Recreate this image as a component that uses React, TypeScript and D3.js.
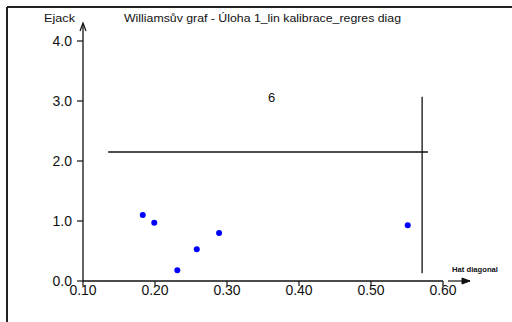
import React from "react";
import * as d3 from "d3";

const hatValues = [0.183, 0.199, 0.231, 0.258, 0.289, 0.551];
const ejackValues = [1.1, 0.97, 0.18, 0.53, 0.8, 0.93];
const xTicks = [0.1, 0.2, 0.3, 0.4, 0.5, 0.6];
const yTicks = [0, 1, 2, 3, 4];
const vLine = { x: 0.571, y0: 0.13, y1: 3.07 };
const hLine = { y: 2.15, x0: 0.135, x1: 0.579 };
const pointLabel = { x: 0.362, y: 2.98, text: "6" };
const title = "Williamsův graf - Úloha 1_lin kalibrace_regres diag";
const yLabel = "Ejack";
const xLabel = "Hat diagonal";

export default function App() {
  const W = 512, H = 322;
  const x = d3.scaleLinear().domain([0.1, 0.6]).range([83, 443]);
  const y = d3.scaleLinear().domain([0, 4]).range([281, 41]);
  const font = "'Liberation Sans', Arial, sans-serif";
  const ink = "#111";
  return (
    <svg width={W} height={H} style={{ position: "absolute", left: 0, top: 0, background: "#fff" }} fontFamily={font}>
      {/* frame */}
      <line x1={7} y1={7} x2={W} y2={7} stroke="#222" strokeWidth={2} />
      <line x1={7} y1={7} x2={7} y2={H} stroke="#222" strokeWidth={2} />
      {/* title */}
      <text x={124} y={22} fontSize={11} textLength={277} lengthAdjust="spacingAndGlyphs" fill={ink}>{title}</text>
      {/* y axis */}
      <line x1={x(0.1)} y1={y(0)} x2={x(0.1)} y2={24} stroke={ink} strokeWidth={1.3} />
      <path d={`M${x(0.1) - 3},${31} L${x(0.1)},${23} L${x(0.1) + 3},${31}`} fill="none" stroke={ink} strokeWidth={1.2} />
      <text x={44} y={22} fontSize={11} textLength={31} lengthAdjust="spacingAndGlyphs" fill={ink}>{yLabel}</text>
      {yTicks.map(t => (
        <g key={"y" + t}>
          <line x1={x(0.1) - 6} x2={x(0.1)} y1={y(t)} y2={y(t)} stroke={ink} strokeWidth={1.2} />
          <text x={x(0.1) - 11} y={y(t) + 5} textAnchor="end" fontSize={14} fill={ink}>{t.toFixed(1)}</text>
        </g>
      ))}
      {/* x axis */}
      <line x1={x(0.1)} y1={y(0)} x2={x(0.6)} y2={y(0)} stroke={ink} strokeWidth={1.3} />
      {xTicks.map(t => (
        <g key={"x" + t}>
          <line x1={x(t)} x2={x(t)} y1={y(0)} y2={y(0) + 5} stroke={ink} strokeWidth={1.2} />
          <text x={x(t)} y={y(0) + 14} textAnchor="middle" fontSize={14} fill={ink}>{t.toFixed(2)}</text>
        </g>
      ))}
      <line x1={448} y1={y(0)} x2={470} y2={y(0)} stroke={ink} strokeWidth={1.2} />
      <path d={`M${462},${y(0) - 3} L${470},${y(0)} L${462},${y(0) + 3} Z`} fill={ink} stroke={ink} strokeWidth={1} />
      <text x={452} y={272} fontSize={7} textLength={46} lengthAdjust="spacingAndGlyphs" fontWeight="bold" fill={ink}>{xLabel}</text>
      {/* reference lines */}
      <line x1={x(vLine.x)} x2={x(vLine.x)} y1={y(vLine.y0)} y2={y(vLine.y1)} stroke={ink} strokeWidth={1.3} />
      <line x1={x(hLine.x0)} x2={x(hLine.x1)} y1={y(hLine.y)} y2={y(hLine.y)} stroke={ink} strokeWidth={1.3} />
      <text x={x(pointLabel.x)} y={y(pointLabel.y)} textAnchor="middle" fontSize={13} fill={ink}>{pointLabel.text}</text>
      {/* points */}
      {hatValues.map((h, i) => (
        <circle key={i} cx={x(h)} cy={y(ejackValues[i])} r={3} fill="#0000ff" />
      ))}
    </svg>
  );
}
